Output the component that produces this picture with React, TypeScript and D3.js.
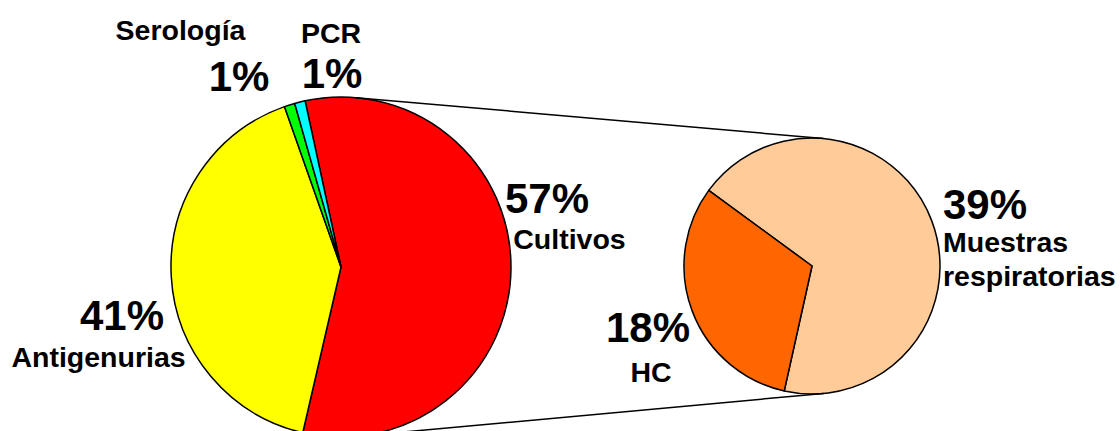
import React from "react";
import * as d3 from "d3";

// Main pie: diagnostic technique share
const mainLabels = ["Cultivos", "Antigenurias", "Serología", "PCR"];
const mainValues = [57, 41, 1, 1];
const mainColors = ["#FF0000", "#FFFF00", "#00FF00", "#00FFFF"];

// Secondary pie: breakdown of Cultivos
const subLabels = ["Muestras respiratorias", "HC"];
const subValues = [39, 18];
const subColors = ["#FFCC99", "#FF6600"];

const W = 1120;
const H = 431;
const deg = Math.PI / 180;

const main = { cx: 341, cy: 267, r: 170, start: -12.2 * deg };
const sub = { cx: 812, cy: 266, r: 128, start: -53.8 * deg };

const font = "Liberation Sans, Arial, Helvetica, sans-serif";

function Pie({ values, colors, cfg }: { values: number[]; colors: string[]; cfg: typeof main }) {
  const pie = d3
    .pie<number>()
    .sort(null)
    .value((d) => d)
    .startAngle(cfg.start)
    .endAngle(cfg.start + 2 * Math.PI);
  const arc = d3.arc<d3.PieArcDatum<number>>().innerRadius(0).outerRadius(cfg.r);
  return (
    <g transform={`translate(${cfg.cx},${cfg.cy})`}>
      {pie(values).map((a, i) => (
        <path key={i} d={arc(a) || ""} fill={colors[i]} stroke="#000" strokeWidth={1.5} strokeLinejoin="round" />
      ))}
    </g>
  );
}

// External tangent lines joining the two pies
function connectors() {
  const dx = sub.cx - main.cx;
  const dy = sub.cy - main.cy;
  const d = Math.hypot(dx, dy);
  const base = Math.atan2(dy, dx);
  const phi = Math.acos((main.r - sub.r) / d);
  return [base - phi, base + phi].map((t) => ({
    x1: main.cx + main.r * Math.cos(t),
    y1: main.cy + main.r * Math.sin(t),
    x2: sub.cx + sub.r * Math.cos(t),
    y2: sub.cy + sub.r * Math.sin(t),
  }));
}

type Lbl = { text: string; x: number; y: number; size: number; anchor: "start" | "middle" | "end" };
const labels: Lbl[] = [
  { text: mainLabels[2], x: 180.5, y: 40, size: 28.5, anchor: "middle" },
  { text: `${mainValues[2]}%`, x: 239, y: 91, size: 42, anchor: "middle" },
  { text: mainLabels[3], x: 331, y: 43, size: 28.5, anchor: "middle" },
  { text: `${mainValues[3]}%`, x: 332, y: 88, size: 42, anchor: "middle" },
  { text: `${mainValues[0]}%`, x: 547, y: 213, size: 42, anchor: "middle" },
  { text: mainLabels[0], x: 569.5, y: 249, size: 28.5, anchor: "middle" },
  { text: `${mainValues[1]}%`, x: 122, y: 330, size: 42, anchor: "middle" },
  { text: mainLabels[1], x: 98.5, y: 367, size: 28.5, anchor: "middle" },
  { text: `${subValues[1]}%`, x: 648, y: 342, size: 42, anchor: "middle" },
  { text: subLabels[1], x: 651, y: 382, size: 28.5, anchor: "middle" },
  { text: `${subValues[0]}%`, x: 985, y: 219, size: 42, anchor: "middle" },
  { text: "Muestras", x: 943, y: 252, size: 28.5, anchor: "start" },
  { text: "respiratorias", x: 943, y: 286, size: 28.5, anchor: "start" },
];

export default function App() {
  const lines = connectors();
  return (
    <svg
      width={W}
      height={H}
      viewBox={`0 0 ${W} ${H}`}
      style={{ position: "absolute", left: 0, top: 0, background: "#fff" }}
    >
      <rect width={W} height={H} fill="#fff" />
      <Pie values={mainValues} colors={mainColors} cfg={main} />
      <Pie values={subValues} colors={subColors} cfg={sub} />
      {lines.map((l, i) => (
        <line key={i} {...l} stroke="#000" strokeWidth={1.5} />
      ))}
      {labels.map((l, i) => (
        <text
          key={i}
          x={l.x}
          y={l.y}
          textAnchor={l.anchor}
          fontFamily={font}
          fontWeight="bold"
          fontSize={l.size}
          fill="#000"
        >
          {l.text}
        </text>
      ))}
    </svg>
  );
}
